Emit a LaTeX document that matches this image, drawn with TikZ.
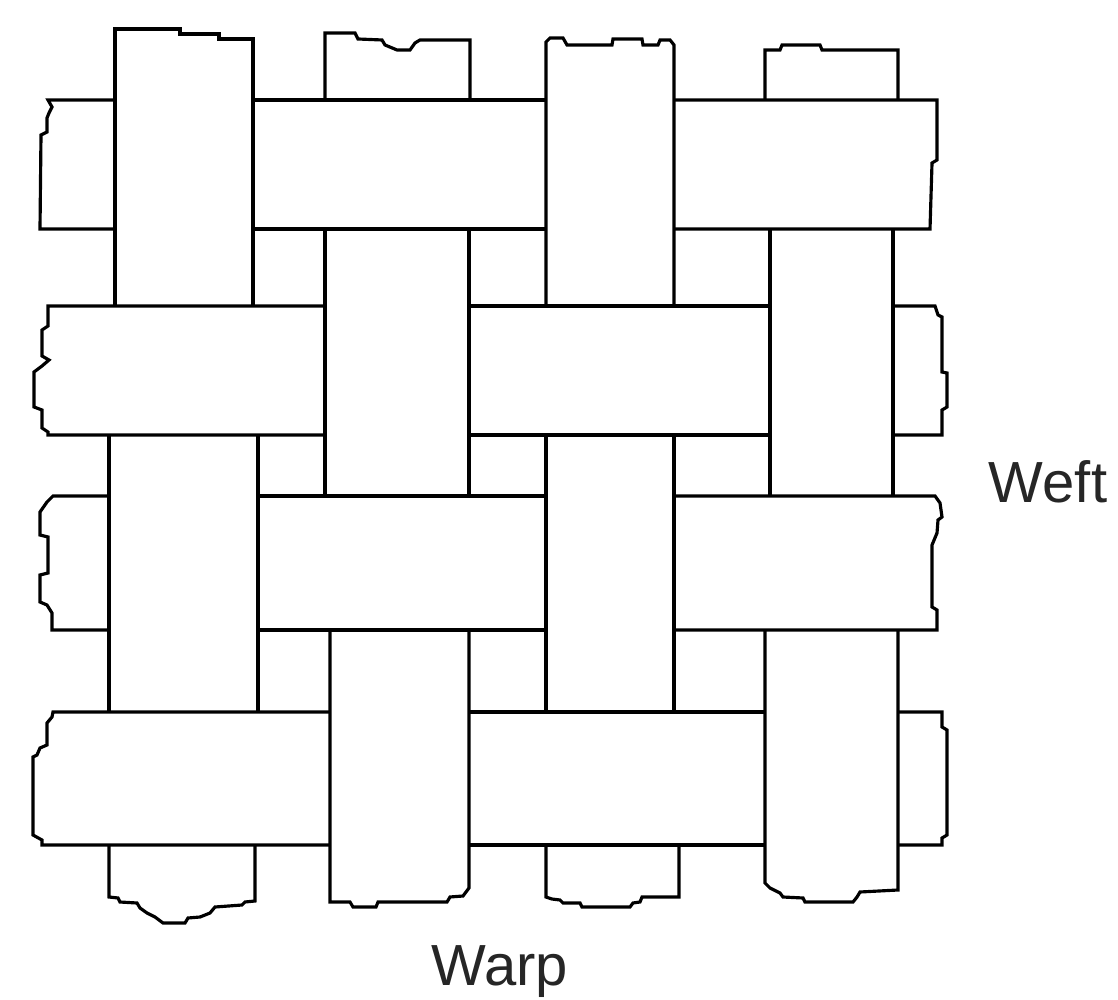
\documentclass[tikz,border=0pt]{standalone}
\usepackage{fontspec}
\setmainfont{Liberation Sans}
\usepackage{tikz}

\begin{document}
\begin{tikzpicture}[thread/.style={line width=0.9pt, line join=miter},
    lbl/.style={font=\fontsize{16.5}{20}\selectfont, inner sep=0pt, text=black!85}]
  % Page and margins
  \fill[white] (0,0) rectangle (11.18,-10);
  \useasboundingbox (0,0) rectangle (11.18,-10);

  % Warp 1 (top part, over weft 1)
  \draw[thread] (1.15,-3.06) -- (1.15,-0.29) -- (1.80,-0.29) -- (1.80,-0.34) -- (2.19,-0.34) -- (2.19,-0.39) -- (2.53,-0.39) -- (2.53,-3.06);
  % Warp 1 (middle, over weft 3)
  \draw[thread] (1.09,-4.35) -- (1.09,-7.12);
  \draw[thread] (2.58,-4.35) -- (2.58,-7.12);
  % Warp 1 (bottom end)
  \draw[thread] (1.09,-8.45) -- (1.09,-8.97) -- (1.18,-8.98) -- (1.20,-9.02) -- (1.37,-9.03) -- (1.40,-9.08) -- (1.47,-9.13) -- (1.55,-9.17) -- (1.63,-9.23) -- (1.85,-9.23) -- (1.88,-9.18) -- (2.00,-9.17) -- (2.10,-9.13) -- (2.15,-9.07) -- (2.42,-9.05) -- (2.45,-9.02) -- (2.55,-9.01) -- (2.55,-8.45);

  % Warp 2 (top end)
  \draw[thread] (3.25,-1.00) -- (3.25,-0.33) -- (3.55,-0.33) -- (3.58,-0.39) -- (3.82,-0.40) -- (3.85,-0.45) -- (3.97,-0.50) -- (4.10,-0.50) -- (4.15,-0.43) -- (4.20,-0.40) -- (4.70,-0.40) -- (4.70,-1.00);
  % Warp 2 (middle, over weft 2)
  \draw[thread] (3.25,-2.29) -- (3.25,-4.96);
  \draw[thread] (4.69,-2.29) -- (4.69,-4.96);
  % Warp 2 (bottom, over weft 4)
  \draw[thread] (3.30,-6.30) -- (3.30,-9.02) -- (3.50,-9.02) -- (3.53,-9.07) -- (3.76,-9.07) -- (3.78,-9.02) -- (4.47,-9.02) -- (4.50,-8.97) -- (4.63,-8.96) -- (4.69,-8.88) -- (4.69,-6.30);

  % Warp 3 (top part, over weft 1)
  \draw[thread] (5.46,-3.06) -- (5.46,-0.42) -- (5.50,-0.38) -- (5.63,-0.38) -- (5.67,-0.45) -- (6.12,-0.45) -- (6.13,-0.39) -- (6.42,-0.39) -- (6.43,-0.45) -- (6.58,-0.45) -- (6.60,-0.40) -- (6.70,-0.40) -- (6.74,-0.45) -- (6.74,-3.06);
  % Warp 3 (middle, over weft 3)
  \draw[thread] (5.46,-4.35) -- (5.46,-7.12);
  \draw[thread] (6.74,-4.35) -- (6.74,-7.12);
  % Warp 3 (bottom end)
  \draw[thread] (5.46,-8.45) -- (5.46,-8.97) -- (5.52,-8.99) -- (5.60,-9.00) -- (5.63,-9.03) -- (5.80,-9.03) -- (5.82,-9.07) -- (6.30,-9.07) -- (6.33,-9.03) -- (6.40,-9.02) -- (6.42,-8.97) -- (6.79,-8.97) -- (6.79,-8.45);

  % Warp 4 (top end)
  \draw[thread] (7.65,-1.00) -- (7.65,-0.50) -- (7.80,-0.50) -- (7.82,-0.45) -- (8.20,-0.45) -- (8.22,-0.50) -- (8.98,-0.50) -- (8.98,-1.00);
  % Warp 4 (middle, over weft 2)
  \draw[thread] (7.70,-2.29) -- (7.70,-4.96);
  \draw[thread] (8.93,-2.29) -- (8.93,-4.96);
  % Warp 4 (bottom, over weft 4)
  \draw[thread] (7.65,-6.30) -- (7.65,-8.83) -- (7.70,-8.88) -- (7.80,-8.93) -- (7.83,-8.97) -- (8.03,-8.98) -- (8.05,-9.02) -- (8.53,-9.02) -- (8.57,-8.97) -- (8.60,-8.92) -- (8.98,-8.90) -- (8.98,-6.30);

  % Weft 1
  \draw[thread] (1.15,-1.00) -- (0.48,-1.00) -- (0.52,-1.07) -- (0.49,-1.13) -- (0.47,-1.18) -- (0.47,-1.32) -- (0.41,-1.35) -- (0.40,-2.29) -- (1.15,-2.29);
  \draw[thread] (2.53,-1.00) -- (5.46,-1.00);
  \draw[thread] (2.53,-2.29) -- (5.46,-2.29);
  \draw[thread] (6.74,-1.00) -- (9.37,-1.00) -- (9.37,-1.60) -- (9.32,-1.63) -- (9.30,-2.29) -- (6.74,-2.29);

  % Weft 2
  \draw[thread] (3.25,-3.06) -- (0.48,-3.06) -- (0.48,-3.26) -- (0.42,-3.30) -- (0.42,-3.56) -- (0.49,-3.60) -- (0.42,-3.66) -- (0.34,-3.72) -- (0.34,-4.07) -- (0.42,-4.10) -- (0.42,-4.28) -- (0.48,-4.32) -- (0.48,-4.35) -- (3.25,-4.35);
  \draw[thread] (4.69,-3.06) -- (7.70,-3.06);
  \draw[thread] (4.69,-4.35) -- (7.70,-4.35);
  \draw[thread] (8.93,-3.06) -- (9.35,-3.06) -- (9.38,-3.15) -- (9.42,-3.17) -- (9.42,-3.72) -- (9.47,-3.73) -- (9.47,-4.07) -- (9.42,-4.10) -- (9.42,-4.35) -- (8.93,-4.35);

  % Weft 3
  \draw[thread] (1.09,-4.96) -- (0.53,-4.96) -- (0.47,-5.02) -- (0.40,-5.12) -- (0.40,-5.35) -- (0.48,-5.37) -- (0.48,-5.73) -- (0.40,-5.75) -- (0.40,-6.02) -- (0.47,-6.05) -- (0.52,-6.13) -- (0.52,-6.30) -- (1.09,-6.30);
  \draw[thread] (2.58,-4.96) -- (5.46,-4.96);
  \draw[thread] (2.58,-6.30) -- (5.46,-6.30);
  \draw[thread] (6.74,-4.96) -- (9.35,-4.96) -- (9.40,-5.03) -- (9.42,-5.17) -- (9.38,-5.20) -- (9.37,-5.33) -- (9.32,-5.45) -- (9.32,-6.07) -- (9.37,-6.10) -- (9.37,-6.30) -- (6.74,-6.30);

  % Weft 4
  \draw[thread] (3.30,-7.12) -- (0.53,-7.12) -- (0.52,-7.17) -- (0.47,-7.23) -- (0.47,-7.45) -- (0.40,-7.48) -- (0.37,-7.55) -- (0.33,-7.57) -- (0.33,-8.35) -- (0.42,-8.40) -- (0.42,-8.45) -- (3.30,-8.45);
  \draw[thread] (4.69,-7.12) -- (7.65,-7.12);
  \draw[thread] (4.69,-8.45) -- (7.65,-8.45);
  \draw[thread] (8.98,-7.12) -- (9.42,-7.12) -- (9.42,-7.27) -- (9.47,-7.30) -- (9.47,-8.35) -- (9.42,-8.38) -- (9.42,-8.45) -- (8.98,-8.45);

  % Labels
  \node[lbl, anchor=base] (weft) at (10.48,-5.03) {Weft};
  \node[lbl, anchor=base] (warp) at (5.00,-9.85) {Warp};
\end{tikzpicture}
\end{document}
